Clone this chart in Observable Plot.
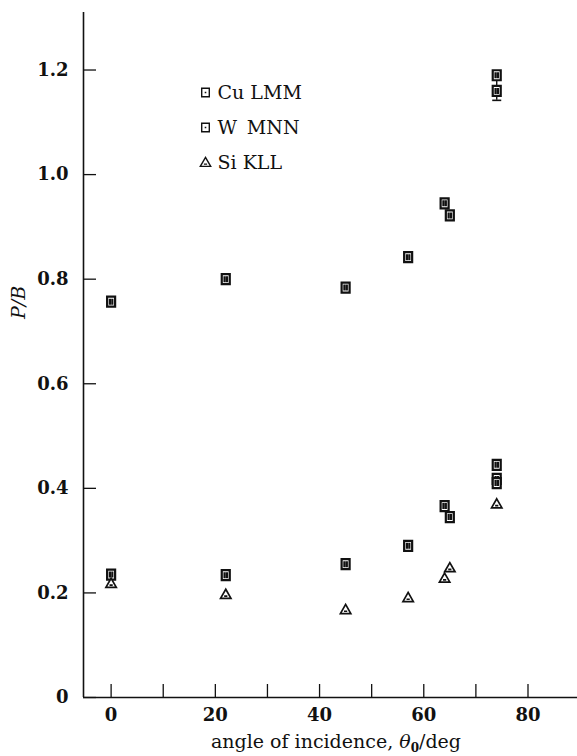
<!DOCTYPE html>
<html>
<head>
<meta charset="utf-8">
<script src="https://cdn.jsdelivr.net/npm/d3@7"></script>
<script src="https://cdn.jsdelivr.net/npm/@observablehq/plot@0.6"></script>
<style>
  body { margin: 0; background: #fff; }
  #chart { width: 577px; height: 756px; }
  #chart svg, #chart svg text { font-family: "DejaVu Serif", serif; }
</style>
</head>
<body>
<div id="chart"></div>
<script>
// Peak-to-background ratio versus angle of incidence
const cuAngle = [0, 22, 45, 57, 64, 65, 74, 74];
const cuPB    = [0.757, 0.800, 0.784, 0.842, 0.945, 0.922, 1.160, 1.190];

const wAngle  = [0, 22, 45, 57, 64, 65, 74, 74, 74];
const wPB     = [0.235, 0.234, 0.255, 0.290, 0.366, 0.345, 0.445, 0.418, 0.410];

const siAngle = [0, 22, 45, 57, 64, 65, 74];
const siPB    = [0.218, 0.197, 0.168, 0.191, 0.228, 0.248, 0.370];

// error bar on the Cu LMM point at 74 deg
const errAngle = [74];
const errLow   = [1.142];
const errHigh  = [1.178];

const seriesNames = ["Cu LMM", "W\u2009 MNN", "Si KLL"];
const xTicks = [0, 10, 20, 30, 40, 50, 60, 70, 80];
const xLabels = [0, 20, 40, 60, 80];
const yTicks = [0, 0.2, 0.4, 0.6, 0.8, 1.0, 1.2];
const xDomain = [-5.3, 89.5];
const yDomain = [0, 1.31];

const cu = cuAngle.map((a, i) => ({angle: a, pb: cuPB[i]}));
const w = wAngle.map((a, i) => ({angle: a, pb: wPB[i]}));
const si = siAngle.map((a, i) => ({angle: a, pb: siPB[i]}));
const err = errAngle.map((a, i) => ({angle: a, lo: errLow[i], hi: errHigh[i]}));

// open rectangle with two inner strokes
const boxSymbol = {
  draw(ctx) {
    const hw = 4, hh = 5;
    ctx.moveTo(-hw, -hh); ctx.lineTo(hw, -hh); ctx.lineTo(hw, hh); ctx.lineTo(-hw, hh); ctx.closePath();
    ctx.moveTo(-1.2, -3); ctx.lineTo(-1.2, 3);
    ctx.moveTo(1.2, -3); ctx.lineTo(1.2, 3);
  }
};
const legendBox = {
  draw(ctx) {
    const hw = 3.8, hh = 4.2;
    ctx.moveTo(-hw, -hh); ctx.lineTo(hw, -hh); ctx.lineTo(hw, hh); ctx.lineTo(-hw, hh); ctx.closePath();
    ctx.moveTo(-0.8, 0); ctx.lineTo(0.8, 0);
  }
};
const triSymbol = {
  draw(ctx) {
    const s = 5.2;
    ctx.moveTo(0, -s); ctx.lineTo(s, s * 0.75); ctx.lineTo(-s, s * 0.75); ctx.closePath();
    ctx.moveTo(-1.6, 1.6); ctx.lineTo(1.6, 1.6);
  }
};
const capSymbol = {
  draw(ctx) { ctx.moveTo(-4.5, 0); ctx.lineTo(4.5, 0); }
};

const legendSymbols = [legendBox, legendBox, triSymbol];
const legendMarks = seriesNames.flatMap((name, i) => [
  Plot.dot([name], {frameAnchor: "top-left", dx: 122, dy: 80 + i * 35, symbol: legendSymbols[i], r: 4, stroke: "#111", strokeWidth: 1.4, fill: "none"}),
  Plot.text([name], {frameAnchor: "top-left", dx: 134, dy: 80 + i * 35, text: d => d, textAnchor: "start", lineAnchor: "middle", fontSize: 19, fill: "#111"})
]);

const plot = Plot.plot({
  width: 577,
  height: 756,
  marginLeft: 83,
  marginRight: 0,
  marginTop: 12,
  marginBottom: 59,
  style: {fontFamily: "'DejaVu Serif', serif", background: "#fff", color: "#111"},
  x: {domain: xDomain},
  y: {domain: yDomain},
  marks: [
    // axis lines
    Plot.ruleY([yDomain[0]], {stroke: "#111", strokeWidth: 1.6}),
    Plot.ruleX([xDomain[0]], {stroke: "#111", strokeWidth: 1.6}),
    // inward ticks
    Plot.axisX({ticks: xTicks, tickSize: 13, dy: -13, text: null, stroke: "#111", strokeWidth: 1.3, label: null}),
    Plot.axisY({ticks: yTicks, tickSize: 13, dx: 13, text: null, stroke: "#111", strokeWidth: 1.3, label: null}),
    // tick labels
    Plot.axisX({ticks: xLabels, tickSize: 0, tickPadding: 11, fontSize: 18, fontWeight: "bold", fill: "#111", label: null, tickFormat: d => String(d)}),
    Plot.axisY({ticks: yTicks, tickSize: 0, tickPadding: 15, fontSize: 18, fontWeight: "bold", fill: "#111", label: null, tickFormat: d => d === 0 ? "0" : d.toFixed(1)}),
    // y title
    Plot.text(["P/B"], {frameAnchor: "left", dx: -65, dy: -36, rotate: -90, text: d => d, fontSize: 19, fontStyle: "italic", fill: "#111"}),
    // error bar
    Plot.ruleX(err, {x: "angle", y1: "lo", y2: "hi", stroke: "#111", strokeWidth: 1.4}),
    Plot.dot(err, {x: "angle", y: "lo", symbol: capSymbol, stroke: "#111", strokeWidth: 1.6}),
    // data
    Plot.dot(cu, {x: "angle", y: "pb", symbol: boxSymbol, r: 4, stroke: "#111", strokeWidth: 2.2, fill: "#fff"}),
    Plot.dot(w, {x: "angle", y: "pb", symbol: boxSymbol, r: 4, stroke: "#111", strokeWidth: 2.2, fill: "#fff"}),
    Plot.dot(si, {x: "angle", y: "pb", symbol: triSymbol, r: 4, stroke: "#111", strokeWidth: 1.7, fill: "#fff"}),
    ...legendMarks
  ]
});

document.getElementById("chart").appendChild(plot);

// x-axis title with italic theta and subscript zero
const t = d3.select(plot).append("text")
  .attr("x", 336)
  .attr("y", 748)
  .attr("text-anchor", "middle")
  .attr("fill", "#111")
  .style("font-family", "'DejaVu Serif', serif")
  .style("font-size", "19px");
t.append("tspan").text("angle of incidence, ");
t.append("tspan").style("font-style", "italic").text("\u03b8");
t.append("tspan").style("font-size", "12px").style("font-weight", "bold").attr("dy", 4).text("0");
t.append("tspan").attr("dy", -4).text("/deg");
</script>
</body>
</html>
